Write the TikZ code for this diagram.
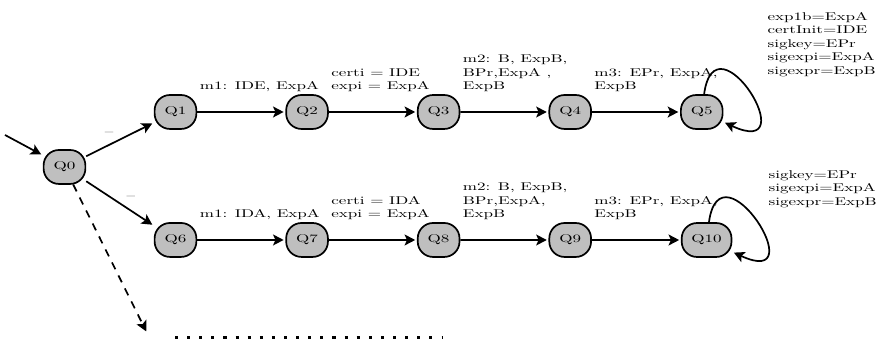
\documentclass[tikz,border=0pt]{standalone}
\usepackage{amsfonts}
\usepackage{tikz}
\usetikzlibrary{arrows.meta}

\tikzset{
    qbox/.style={draw, fill=black!25, rounded corners=9pt, inner xsep=5.7pt,
        minimum width=0.86cm, minimum height=1.06cm},
    lbl/.style={at start, anchor=south west, align=left, inner sep=1pt, yshift=16.2pt},
    vars/.style={anchor=north west, align=left, inner sep=1pt},
    selfloop/.style={out=85, in=-35, out distance=2.6cm, in distance=2.1cm},
    dots/.style={line width=1.8pt, dash pattern=on 1.8pt off 5.3pt}
}

\begin{document}
\begin{tikzpicture}[>={Stealth[length=6.2pt, width=6.4pt, inset=1.4pt]}, shorten >=1pt, auto,
        node distance=2.71cm, line width=1pt,
        x=0.0206cm, y=-0.0312cm, yscale=0.66, transform shape]
    \useasboundingbox (0,0) rectangle (877,341);

    % Nodes {Q0, Q1, ..., Q10}
    \node [qbox]    (q0)                        at (64.5,167)   {Q0};
    \node [qbox]    (q1)                        at (175.5,112)  {Q1};
    \node [qbox]    (q2)  [right of=q1]                         {Q2};
    \node [qbox]    (q3)  [right of=q2]                         {Q3};
    \node [qbox]    (q4)  [right of=q3]                         {Q4};
    \node [qbox]    (q5)  [right of=q4]                         {Q5};
    \node [qbox]    (q6)                        at (175.5,240)  {Q6};
    \node [qbox]    (q7)  [right of=q6]                         {Q7};
    \node [qbox]    (q8)  [right of=q7]                         {Q8};
    \node [qbox]    (q9)  [right of=q8]                         {Q9};
    \node [qbox]    (q10) [right of=q9, xshift=0.1cm]           {Q10};

    % Free ends
    \coordinate (start) at (5,135);
    \coordinate (more)  at (147,333);
    \coordinate (dotl)  at (175,338);
    \coordinate (dotr)  at (445,338);

    % Variable values at the final states
    \node [vars] (v5)  at (765,10.5)  {exp1b=ExpA\\certInit=IDE\\sigkey=EPr\\sigexpi=ExpA\\sigexpr=ExpB};
    \node [vars] (v10) at (766,169)   {sigkey=EPr\\sigexpi=ExpA\\sigexpr=ExpB};

    % Paths
    \path [->]  (start) edge                                        (q0);
    \path [->]  (q0) edge           node             {--}           (q1);
    \path [->]  (q0) edge           node             {--}           (q6);
    \path [->]  (q0) edge [dash pattern=on 4.5pt off 4pt]           (more);

    \path [->]  (q1) edge           node [lbl] {m1: IDE, ExpA}                  (q2);
    \path [->]  (q2) edge           node [lbl] {certi = IDE\\expi = ExpA}       (q3);
    \path [->]  (q3) edge           node [lbl] {m2: B, ExpB,\\BPr,ExpA ,\\ExpB} (q4);
    \path [->]  (q4) edge           node [lbl] {m3: EPr, ExpA,\\ExpB}           (q5);
    \path [->]  (q5) edge [selfloop]                                            (q5);

    \path [->]  (q6) edge           node [lbl] {m1: IDA, ExpA}                  (q7);
    \path [->]  (q7) edge           node [lbl] {certi = IDA\\expi = ExpA}       (q8);
    \path [->]  (q8) edge           node [lbl] {m2: B, ExpB,\\BPr,ExpA,\\ExpB}  (q9);
    \path [->]  (q9) edge           node [lbl] {m3: EPr, ExpA,\\ExpB}           (q10);
    \path [->]  (q10) edge [selfloop]                                           (q10);

    \draw [dots] (dotl) -- (dotr);
\end{tikzpicture}
\end{document}
